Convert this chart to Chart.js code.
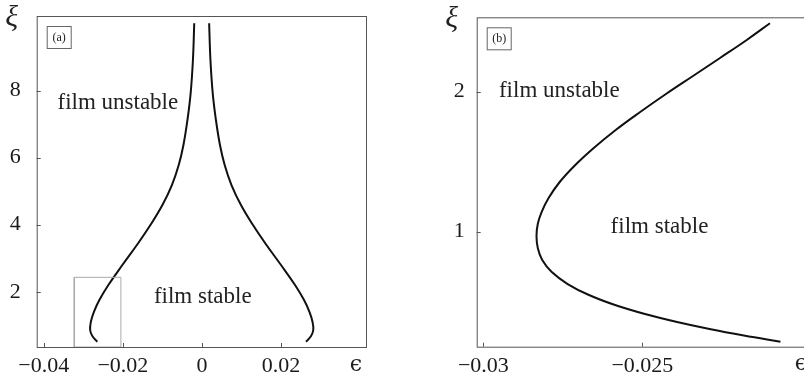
<!DOCTYPE html>
<html>
<head>
<meta charset="utf-8">
<script src="https://cdn.jsdelivr.net/npm/chart.js@4.4.1/dist/chart.umd.min.js"></script>
<style>
  html, body { margin: 0; padding: 0; background: #fff; overflow: hidden; width: 804px; height: 376px; }
  canvas { position: absolute; top: 0; }
  #chartA { left: 0; }
  #chartB { left: 420px; }
</style>
</head>
<body>
<canvas id="chartA" width="400" height="376"></canvas>
<canvas id="chartB" width="400" height="376"></canvas>
<script>
// panel (a): both branches of the stability boundary
const xiA       = [10.012, 8.916, 7.922, 7.125, 6.379, 5.782, 5.185, 4.588, 3.991, 3.394, 2.797, 2.200, 1.752, 1.394, 1.095, 0.857, 0.678, 0.507];
const epsLeftA  = [-0.00195, -0.00228, -0.00286, -0.00367, -0.00468, -0.00587, -0.00760, -0.01000, -0.01304, -0.01646, -0.02013, -0.02367, -0.02595, -0.02735, -0.02811, -0.02828, -0.02773, -0.02646];
const epsRightA = [0.00182, 0.00215, 0.00273, 0.00354, 0.00456, 0.00575, 0.00747, 0.00987, 0.01291, 0.01633, 0.02000, 0.02355, 0.02583, 0.02722, 0.02798, 0.02816, 0.02760, 0.02633];
// zoom window marked in (a)
const boxEpsA = [-0.0323, -0.0205];
const boxXiA  = [0.35, 2.43];
const xTicksA = [-0.04, -0.02, 0, 0.02];
const yTicksA = [2, 4, 6, 8];
const noteTextA = ['film unstable', 'film stable'];
const noteEpsA  = [-0.03654, -0.01215];
const noteXiA   = [7.45, 1.67];

// panel (b): close-up of the left branch
const epsB = [-0.02099, -0.02172, -0.02256, -0.02341, -0.02426, -0.02507, -0.02584, -0.02653, -0.02711, -0.02760, -0.02795, -0.02817, -0.02829, -0.02833,
              -0.02829, -0.02815, -0.02785, -0.02735, -0.02668, -0.02586, -0.02492, -0.02391, -0.02289, -0.02181, -0.02066];
const xiB  = [2.4886, 2.3693, 2.2407, 2.1121, 1.9836, 1.855, 1.7264, 1.5979, 1.4764, 1.355, 1.2407, 1.1407, 1.055, 0.9693,
              0.8836, 0.7979, 0.7121, 0.6264, 0.5479, 0.4764, 0.4121, 0.355, 0.305, 0.2586, 0.2143];
const xTicksB = [-0.03, -0.025];
const yTicksB = [1, 2];
const noteTextB = ['film unstable', 'film stable'];
const noteEpsB  = [-0.02951, -0.0260];
const noteXiB   = [1.96, 0.993];

const zip = (xs, ys) => xs.map((v, i) => ({ x: v, y: ys[i] }));
const fmt = v => (v < 0 ? '\u2212' : '') + Math.abs(v);
const tickFont = { family: '"Liberation Serif", serif', size: 22 };

const decor = {
  id: 'decor',
  afterDraw(chart, args, o) {
    const { ctx, chartArea: a, scales: { x, y } } = chart;
    ctx.save();
    ctx.strokeStyle = '#555';
    ctx.lineWidth = 1;
    ctx.strokeRect(a.left + 0.5, a.top + 0.5, a.right - a.left, a.bottom - a.top);
    // tick marks point inwards
    ctx.beginPath();
    o.xTicks.forEach(v => {
      const px = Math.round(x.getPixelForValue(v)) + 0.5;
      ctx.moveTo(px, a.bottom); ctx.lineTo(px, a.bottom - 4);
    });
    o.yTicks.forEach(v => {
      const py = Math.round(y.getPixelForValue(v)) + 0.5;
      ctx.moveTo(a.left, py); ctx.lineTo(a.left + 4, py);
    });
    ctx.stroke();
    // panel tag
    ctx.strokeStyle = '#666';
    ctx.strokeRect(a.left + 10.5, a.top + 10.5, 24, 22);
    ctx.fillStyle = '#222';
    ctx.font = '12px "Liberation Serif"';
    ctx.textAlign = 'center';
    ctx.textBaseline = 'middle';
    ctx.fillText(o.tag, a.left + 22.5, a.top + 22);
    // axis symbols
    ctx.font = 'italic 30px "Liberation Serif", "DejaVu Serif"';
    ctx.fillText('\u03BE', a.left - 25, a.top + 2);
    ctx.font = '22px "DejaVu Serif"';
    ctx.fillText('\u03F5', a.right - 10, a.bottom + 18);
    // region notes
    ctx.font = '23px "Liberation Serif"';
    ctx.textAlign = 'left';
    ctx.textBaseline = 'alphabetic';
    o.notes.forEach(n => ctx.fillText(n.text, x.getPixelForValue(n.eps), y.getPixelForValue(n.xi)));
    ctx.restore();
  }
};

function curve(data, color, width) {
  return { data, showLine: true, pointRadius: 0, borderColor: color, borderWidth: width, tension: 0.4, fill: false };
}

function makeChart(id, datasets, cfg) {
  return new Chart(document.getElementById(id), {
    type: 'scatter',
    data: { datasets },
    plugins: [decor],
    options: {
      responsive: false,
      animation: false,
      layout: { padding: { top: cfg.padTop, right: cfg.padRight, left: 0, bottom: 0 } },
      plugins: {
        legend: { display: false },
        tooltip: { enabled: false },
        decor: {
          tag: cfg.tag, xTicks: cfg.xTicks, yTicks: cfg.yTicks,
          notes: cfg.noteText.map((t, i) => ({ text: t, eps: cfg.noteEps[i], xi: cfg.noteXi[i] }))
        }
      },
      scales: {
        x: {
          type: 'linear', min: cfg.xMin, max: cfg.xMax,
          grid: { display: false, drawTicks: false }, border: { display: false },
          afterBuildTicks: s => { s.ticks = cfg.xTicks.map(v => ({ value: v })); },
          afterFit: s => { s.height = cfg.xHeight; s.paddingLeft = 0; s.paddingRight = 0; },
          ticks: { padding: 6, color: '#1a1a1a', font: tickFont, maxRotation: 0, autoSkip: false, callback: v => fmt(v) }
        },
        y: {
          type: 'linear', min: cfg.yMin, max: cfg.yMax,
          grid: { display: false, drawTicks: false }, border: { display: false },
          afterBuildTicks: s => { s.ticks = cfg.yTicks.map(v => ({ value: v })); },
          afterFit: s => { s.width = cfg.yWidth; s.paddingTop = 0; s.paddingBottom = 0; },
          ticks: { padding: cfg.yPad, color: '#1a1a1a', font: tickFont, autoSkip: false, callback: v => fmt(v) }
        }
      }
    }
  });
}

const boxA = zip([boxEpsA[0], boxEpsA[1], boxEpsA[1], boxEpsA[0], boxEpsA[0]],
                 [boxXiA[0], boxXiA[0], boxXiA[1], boxXiA[1], boxXiA[0]]);

makeChart('chartA', [
  Object.assign(curve(boxA, '#aaa', 1), { tension: 0 }),
  curve(zip(epsLeftA, xiA), '#111', 2),
  curve(zip(epsRightA, xiA), '#111', 2)
], {
  tag: '(a)', xMin: -0.0418, xMax: 0.0415, yMin: 0.35, yMax: 10.23,
  xTicks: xTicksA, yTicks: yTicksA, noteText: noteTextA, noteEps: noteEpsA, noteXi: noteXiA,
  padTop: 16, padRight: 34, xHeight: 29, yWidth: 36.7, yPad: 16
});

makeChart('chartB', [
  curve(zip(epsB, xiB), '#111', 2)
], {
  tag: '(b)', xMin: -0.03021, xMax: -0.0197, yMin: 0.179, yMax: 2.531,
  xTicks: xTicksB, yTicks: yTicksB, noteText: noteTextB, noteEps: noteEpsB, noteXi: noteXiB,
  padTop: 17.3, padRight: 9, xHeight: 29.3, yWidth: 56.7, yPad: 12
});
</script>
</body>
</html>
